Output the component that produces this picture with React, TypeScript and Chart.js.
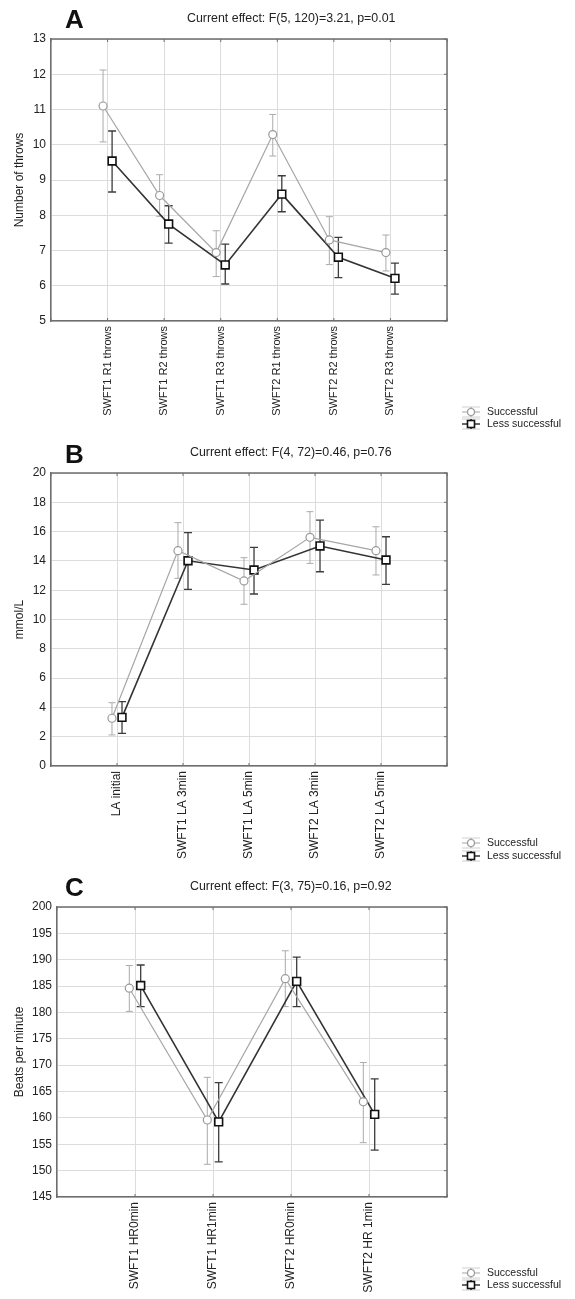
import React, { useEffect, useRef } from "react";
import { Chart, registerables } from "chart.js";

Chart.register(...registerables);

const FONT = '"Liberation Sans", Arial, Helvetica, sans-serif';

// ---------- Panel A: number of throws ----------
const categoriesA = [
  "SWFT1 R1 throws",
  "SWFT1 R2 throws",
  "SWFT1 R3 throws",
  "SWFT2 R1 throws",
  "SWFT2 R2 throws",
  "SWFT2 R3 throws",
];
const successfulA = [11.1, 8.56, 6.94, 10.29, 7.3, 6.94];
const successfulAHigh = [12.12, 9.15, 7.56, 10.86, 7.96, 7.44];
const successfulALow = [10.08, 7.97, 6.26, 9.68, 6.6, 6.42];
const lessA = [9.54, 7.75, 6.59, 8.6, 6.81, 6.21];
const lessAHigh = [10.39, 8.27, 7.18, 9.12, 7.37, 6.64];
const lessALow = [8.66, 7.21, 6.05, 8.1, 6.23, 5.76];

// ---------- Panel B: lactate ----------
const categoriesB = [
  "LA initial",
  "SWFT1 LA 3min",
  "SWFT1 LA 5min",
  "SWFT2 LA 3min",
  "SWFT2 LA 5min",
];
const successfulB = [3.26, 14.7, 12.63, 15.61, 14.7];
const successfulBHigh = [4.32, 16.61, 14.22, 17.36, 16.33];
const successfulBLow = [2.12, 12.81, 11.04, 13.83, 13.04];
const lessB = [3.32, 14.01, 13.38, 15.02, 14.06];
const lessBHigh = [4.39, 15.93, 14.93, 16.79, 15.65];
const lessBLow = [2.23, 12.06, 11.74, 13.26, 12.4];

// ---------- Panel C: heart rate ----------
const categoriesC = [
  "SWFT1 HR0min",
  "SWFT1 HR1min",
  "SWFT2 HR0min",
  "SWFT2 HR 1min",
];
const successfulC = [184.6, 159.6, 186.4, 163.05];
const successfulCHigh = [188.9, 167.7, 191.7, 170.5];
const successfulCLow = [180.2, 151.2, 181.1, 155.3];
const lessC = [185.1, 159.25, 185.9, 160.66];
const lessCHigh = [189.0, 166.7, 190.5, 167.4];
const lessCLow = [181.1, 151.65, 181.1, 153.9];

const seriesNames = ["Successful", "Less successful"];

const SUCC_COLOR = "#a6a6a6";
const LESS_COLOR = "#333333";

type Panel = {
  top: number;
  height: number;
  area: { left: number; right: number; top: number; bottom: number };
  letter: string;
  letterY: number;
  caption: string;
  captionX: number;
  captionY: number;
  legendY: number[];
  yTitle: string;
  yMin: number;
  yMax: number;
  yStep: number;
  xFont: number;
  offset: number;
  categories: string[];
  succ: number[];
  succHi: number[];
  succLo: number[];
  less: number[];
  lessHi: number[];
  lessLo: number[];
};

const panels: Panel[] = [
  {
    top: 0,
    height: 436,
    area: { left: 51, right: 447, top: 39, bottom: 321 },
    letter: "A",
    letterY: 28,
    caption: "Current effect: F(5, 120)=3.21, p=0.01",
    captionX: 187,
    captionY: 19,
    legendY: [412, 424],
    yTitle: "Number of throws",
    yMin: 5,
    yMax: 13,
    yStep: 1,
    xFont: 11,
    offset: 0.08,
    categories: categoriesA,
    succ: successfulA,
    succHi: successfulAHigh,
    succLo: successfulALow,
    less: lessA,
    lessHi: lessAHigh,
    lessLo: lessALow,
  },
  {
    top: 436,
    height: 430,
    area: { left: 51, right: 447, top: 37, bottom: 330 },
    letter: "B",
    letterY: 27,
    caption: "Current effect: F(4, 72)=0.46, p=0.76",
    captionX: 190,
    captionY: 17,
    legendY: [407, 420],
    yTitle: "mmol/L",
    yMin: 0,
    yMax: 20,
    yStep: 2,
    xFont: 12,
    offset: 0.076,
    categories: categoriesB,
    succ: successfulB,
    succHi: successfulBHigh,
    succLo: successfulBLow,
    less: lessB,
    lessHi: lessBHigh,
    lessLo: lessBLow,
  },
  {
    top: 866,
    height: 433,
    area: { left: 57, right: 447, top: 41, bottom: 331 },
    letter: "C",
    letterY: 30,
    caption: "Current effect: F(3, 75)=0.16, p=0.92",
    captionX: 190,
    captionY: 21,
    legendY: [407, 419],
    yTitle: "Beats per minute",
    yMin: 145,
    yMax: 200,
    yStep: 5,
    xFont: 12,
    offset: 0.073,
    categories: categoriesC,
    succ: successfulC,
    succHi: successfulCHigh,
    succLo: successfulCLow,
    less: lessC,
    lessHi: lessCHigh,
    lessLo: lessCLow,
  },
];

const decoPlugin = {
  id: "deco",
  beforeDatasetsDraw(chart: any, _args: any, opts: any) {
    const ctx = chart.ctx;
    const ys = chart.scales.y;
    (opts.errors || []).forEach((eb: any, di: number) => {
      const meta = chart.getDatasetMeta(di);
      ctx.save();
      ctx.strokeStyle = eb.color;
      ctx.lineWidth = eb.width;
      meta.data.forEach((pt: any, i: number) => {
        const x = pt.x;
        const yh = ys.getPixelForValue(eb.hi[i]);
        const yl = ys.getPixelForValue(eb.lo[i]);
        ctx.beginPath();
        ctx.moveTo(x, yh);
        ctx.lineTo(x, yl);
        ctx.moveTo(x - eb.cap, yh);
        ctx.lineTo(x + eb.cap, yh);
        ctx.moveTo(x - eb.cap, yl);
        ctx.lineTo(x + eb.cap, yl);
        ctx.stroke();
      });
      ctx.restore();
    });
  },
  afterDraw(chart: any, _args: any, opts: any) {
    const ctx = chart.ctx;
    const a = chart.chartArea;
    ctx.save();
    // box border (top and right)
    ctx.strokeStyle = "#6e6e6e";
    ctx.lineWidth = 1.5;
    ctx.beginPath();
    ctx.moveTo(a.left, a.top);
    ctx.lineTo(a.right, a.top);
    ctx.lineTo(a.right, a.bottom);
    ctx.stroke();
    // small inward ticks on the frame
    ctx.lineWidth = 1;
    const xs = chart.scales.x;
    const ys = chart.scales.y;
    xs.ticks.forEach((t: any) => {
      const px = xs.getPixelForValue(t.value);
      ctx.beginPath();
      ctx.moveTo(px, a.top);
      ctx.lineTo(px, a.top + 3);
      ctx.moveTo(px, a.bottom);
      ctx.lineTo(px, a.bottom - 3);
      ctx.stroke();
    });
    ys.ticks.forEach((t: any) => {
      const py = ys.getPixelForValue(t.value);
      ctx.beginPath();
      ctx.moveTo(a.right, py);
      ctx.lineTo(a.right - 3, py);
      ctx.stroke();
    });

    // panel letter
    ctx.fillStyle = "#111";
    ctx.textBaseline = "alphabetic";
    ctx.textAlign = "left";
    ctx.font = `bold 26px ${FONT}`;
    ctx.fillText(opts.letter, 65, opts.letterY);

    // caption
    ctx.font = `12.4px ${FONT}`;
    ctx.textBaseline = "middle";
    ctx.fillStyle = "#222";
    ctx.fillText(opts.caption, opts.captionX, opts.captionY);

    // legend
    const cx = 471;
    chart.data.datasets.forEach((ds: any, di: number) => {
      const y = opts.legendY[di];
      ctx.strokeStyle = "#d0d0d0";
      ctx.lineWidth = 1;
      ctx.beginPath();
      ctx.moveTo(cx - 9, y - 5);
      ctx.lineTo(cx + 9, y - 5);
      ctx.moveTo(cx - 9, y + 5);
      ctx.lineTo(cx + 9, y + 5);
      ctx.stroke();
      ctx.strokeStyle = ds.borderColor;
      ctx.lineWidth = ds.borderWidth;
      ctx.beginPath();
      ctx.moveTo(cx - 9, y);
      ctx.lineTo(cx + 9, y);
      ctx.moveTo(cx, y - 5);
      ctx.lineTo(cx, y + 5);
      ctx.stroke();
      ctx.fillStyle = "#fff";
      ctx.strokeStyle = ds.pointBorderColor;
      ctx.lineWidth = ds.pointBorderWidth;
      if (ds.pointStyle === "rect") {
        ctx.fillRect(cx - 3.5, y - 3.5, 7, 7);
        ctx.strokeRect(cx - 3.5, y - 3.5, 7, 7);
      } else {
        ctx.beginPath();
        ctx.arc(cx, y, 3.5, 0, Math.PI * 2);
        ctx.fill();
        ctx.stroke();
      }
      ctx.fillStyle = "#222";
      ctx.font = `10.5px ${FONT}`;
      ctx.textBaseline = "middle";
      ctx.fillText(ds.label, 487, y);
    });
    ctx.restore();
  },
};

function PanelChart({ p }: { p: Panel }) {
  const ref = useRef<HTMLCanvasElement | null>(null);
  useEffect(() => {
    if (!ref.current) return;
    const n = p.categories.length;
    const chart = new Chart(ref.current, {
      type: "line",
      data: {
        datasets: [
          {
            label: seriesNames[0],
            data: p.succ.map((v, i) => ({ x: i + 1 - p.offset, y: v })),
            borderColor: SUCC_COLOR,
            borderWidth: 1.2,
            pointStyle: "circle",
            pointRadius: 4,
            pointBorderColor: "#9a9a9a",
            pointBorderWidth: 1.2,
            pointBackgroundColor: "#ffffff",
            tension: 0,
          },
          {
            label: seriesNames[1],
            data: p.less.map((v, i) => ({ x: i + 1 + p.offset, y: v })),
            borderColor: LESS_COLOR,
            borderWidth: 1.6,
            pointStyle: "rect",
            pointRadius: 5.5,
            pointBorderColor: "#111111",
            pointBorderWidth: 1.6,
            pointBackgroundColor: "#ffffff",
            tension: 0,
          },
        ] as any,
      },
      options: {
        animation: false,
        responsive: false,
        events: [],
        layout: {
          padding: {
            left: 0,
            top: p.area.top,
            right: 575 - p.area.right,
            bottom: 0,
          },
        },
        plugins: {
          legend: { display: false },
          tooltip: { enabled: false },
          title: { display: false },
          deco: {
            letter: p.letter,
            letterY: p.letterY,
            caption: p.caption,
            captionX: p.captionX,
            captionY: p.captionY,
            legendY: p.legendY,
            errors: [
              { hi: p.succHi, lo: p.succLo, color: "#ababab", width: 1, cap: 3.5 },
              { hi: p.lessHi, lo: p.lessLo, color: "#3c3c3c", width: 1.3, cap: 4 },
            ],
          },
        } as any,
        scales: {
          x: {
            type: "linear",
            min: 0,
            max: n + 1,
            afterFit: (s: any) => {
              s.height = p.height - p.area.bottom;
            },
            grid: { color: "#dcdcdc", lineWidth: 1, drawTicks: false },
            border: { color: "#6e6e6e", width: 1.5 },
            ticks: {
              stepSize: 1,
              autoSkip: false,
              maxRotation: 90,
              minRotation: 90,
              padding: 5,
              color: "#222",
              font: { family: FONT, size: p.xFont },
              callback: (v: any) => {
                const k = Number(v);
                return Number.isInteger(k) && k >= 1 && k <= n ? p.categories[k - 1] : "";
              },
            },
          },
          y: {
            min: p.yMin,
            max: p.yMax,
            afterFit: (s: any) => {
              s.width = p.area.left;
            },
            grid: { color: "#dcdcdc", lineWidth: 1, drawTicks: false },
            border: { color: "#6e6e6e", width: 1.5 },
            ticks: {
              stepSize: p.yStep,
              padding: 5,
              color: "#222",
              font: { family: FONT, size: 12 },
            },
            title: {
              display: true,
              text: p.yTitle,
              color: "#222",
              font: { family: FONT, size: 12 },
              padding: { top: 12, bottom: 0 },
            },
          },
        } as any,
      },
      plugins: [decoPlugin as any],
    });
    return () => chart.destroy();
  }, [p]);
  return (
    <canvas
      ref={ref}
      width={575}
      height={p.height}
      style={{ position: "absolute", left: 0, top: p.top, width: 575, height: p.height }}
    />
  );
}

export default function App() {
  return (
    <div
      style={{
        position: "absolute",
        left: 0,
        top: 0,
        width: 575,
        height: 1299,
        background: "#ffffff",
        overflow: "hidden",
      }}
    >
      {panels.map((p) => (
        <PanelChart key={p.letter} p={p} />
      ))}
    </div>
  );
}
